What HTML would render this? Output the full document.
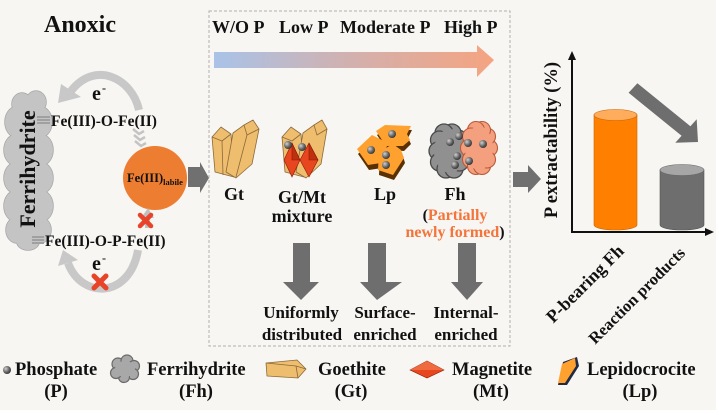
<!DOCTYPE html>
<html><head><meta charset="utf-8"><style>
html,body{margin:0;padding:0;background:#fff;}
svg{display:block;}
text{font-family:"Liberation Serif","DejaVu Serif",serif;font-weight:bold;fill:#111;}
</style></head><body>
<svg width="719" height="415" viewBox="0 0 719 415" xmlns="http://www.w3.org/2000/svg">
<defs>
<linearGradient id="grad" x1="0" x2="1" y1="0" y2="0">
<stop offset="0" stop-color="#a9c3e8"/><stop offset="0.5" stop-color="#d3b0ad"/><stop offset="1" stop-color="#f5a480"/>
</linearGradient>
<radialGradient id="ball" cx="0.35" cy="0.35" r="0.7">
<stop offset="0" stop-color="#d0d0d0"/><stop offset="0.6" stop-color="#666"/><stop offset="1" stop-color="#333"/>
</radialGradient>
</defs>
<rect x="0" y="0" width="716" height="410" fill="#f8f6f2"/>

<!-- Title -->
<text x="44" y="32" font-size="24">Anoxic</text>

<!-- Left ferrihydrite cloud -->
<g stroke="#a8a8a8" stroke-width="1.5" fill="#c4c4c4">
<ellipse cx="22" cy="104" rx="10" ry="11"/><ellipse cx="36" cy="102" rx="10" ry="11"/>
<ellipse cx="16" cy="122" rx="11" ry="15"/><ellipse cx="41" cy="122" rx="11" ry="15"/>
<ellipse cx="15" cy="150" rx="11" ry="15"/><ellipse cx="42" cy="150" rx="11" ry="15"/>
<ellipse cx="15" cy="178" rx="11" ry="15"/><ellipse cx="42" cy="178" rx="11" ry="15"/>
<ellipse cx="15" cy="206" rx="11" ry="15"/><ellipse cx="42" cy="206" rx="11" ry="15"/>
<ellipse cx="17" cy="230" rx="11" ry="13"/><ellipse cx="40" cy="230" rx="11" ry="13"/>
<ellipse cx="28" cy="242" rx="11" ry="8"/>
</g>
<g fill="#c4c4c4">
<ellipse cx="22" cy="104" rx="10" ry="11"/><ellipse cx="36" cy="102" rx="10" ry="11"/>
<ellipse cx="16" cy="122" rx="11" ry="15"/><ellipse cx="41" cy="122" rx="11" ry="15"/>
<ellipse cx="15" cy="150" rx="11" ry="15"/><ellipse cx="42" cy="150" rx="11" ry="15"/>
<ellipse cx="15" cy="178" rx="11" ry="15"/><ellipse cx="42" cy="178" rx="11" ry="15"/>
<ellipse cx="15" cy="206" rx="11" ry="15"/><ellipse cx="42" cy="206" rx="11" ry="15"/>
<ellipse cx="17" cy="230" rx="11" ry="13"/><ellipse cx="40" cy="230" rx="11" ry="13"/>
<ellipse cx="28" cy="242" rx="11" ry="8"/>
<rect x="15" y="104" width="27" height="136"/>
</g>
<text transform="translate(35,169) rotate(-90)" font-size="22" text-anchor="middle">Ferrihydrite</text>

<!-- top arc -->
<path d="M139 110 C132 78 95 60 71 91" fill="none" stroke="#c8c8c8" stroke-width="8"/>
<polygon points="58,103 61,84 81,97" fill="#c8c8c8"/>
<text x="92" y="100" font-size="20">e</text><text x="102" y="92" font-size="12">-</text>
<g stroke="#a0a0a0" stroke-width="2" fill="none">
<line x1="37" y1="117" x2="50" y2="117"/><line x1="37" y1="120" x2="50" y2="120"/><line x1="37" y1="123" x2="50" y2="123"/>
</g>
<text x="51" y="126" font-size="15.5">Fe(III)-O-Fe(II)</text>
<g stroke="#c4c4c4" stroke-width="2.5" fill="none">
<polyline points="133,129 139,134 144,131"/><polyline points="134,135 140,140 145,137"/><polyline points="135,141 141,146 146,143"/>
</g>

<!-- orange circle -->
<circle cx="155" cy="178" r="32" fill="#ed7d31"/>
<text x="127" y="182" font-size="12.5">Fe(III)<tspan font-size="8.5" dy="3">labile</tspan></text>
<polygon points="188,167 200,167 200,162 209,178 200,193 200,187 188,187" fill="#707070"/>

<!-- lower part -->
<polygon points="148,208 154,218 150,218 150,228 145,228 145,218 141,218" fill="#c0c0c0"/>
<g stroke="#e8442a" stroke-width="4.5" stroke-linecap="round">
<line x1="140" y1="215" x2="151" y2="226"/><line x1="151" y1="215" x2="140" y2="226"/>
</g>
<g stroke="#a0a0a0" stroke-width="2" fill="none">
<line x1="32" y1="237" x2="44" y2="237"/><line x1="32" y1="240" x2="44" y2="240"/><line x1="32" y1="243" x2="44" y2="243"/>
</g>
<text x="45" y="246" font-size="15.5">Fe(III)-O-P-Fe(II)</text>
<path d="M138 250 C130 298 82 300 68 263" fill="none" stroke="#c8c8c8" stroke-width="8"/>
<polygon points="63,250 78,260 58,266" fill="#c8c8c8"/>
<text x="92" y="270" font-size="20">e</text><text x="102" y="262" font-size="12">-</text>
<g stroke="#e8442a" stroke-width="5" stroke-linecap="round">
<line x1="94" y1="276" x2="106" y2="288"/><line x1="106" y1="276" x2="94" y2="288"/>
</g>

<!-- dashed box -->
<rect x="209" y="11" width="301" height="335" fill="none" stroke="#b0b0b0" stroke-width="1" stroke-dasharray="3,2"/>
<text x="212" y="33" font-size="18">W/O P</text>
<text x="279" y="33" font-size="18">Low P</text>
<text x="340" y="33" font-size="18">Moderate P</text>
<text x="444" y="33" font-size="18">High P</text>
<polygon points="214,52 477,52 477,45 494,60 477,77 477,68 214,68" fill="url(#grad)"/>

<!-- Gt crystals -->
<g fill="#eebd6e" stroke="#8a6a3a" stroke-width="0.8" stroke-linejoin="round">
<polygon points="212,137 221,127 231,134 234,177 215,172"/>
<polyline points="212,137 222,141 231,134" fill="none"/><line x1="222" y1="141" x2="223" y2="175"/>
<polygon points="233,133 244,125 253,120 259,129 252,164 236,178 226,172"/>
<polyline points="244,125 247,135 259,129" fill="none"/><line x1="247" y1="135" x2="236" y2="177"/>
</g>
<!-- Gt/Mt -->
<g fill="#eebd6e" stroke="#8a6a3a" stroke-width="0.8" stroke-linejoin="round">
<polygon points="282,137 291,127 301,134 304,177 285,172"/>
<polyline points="282,137 292,141 301,134" fill="none"/>
<polygon points="303,133 314,125 322,120 327,129 321,164 306,178 296,172"/>
<polyline points="314,125 317,135 327,129" fill="none"/>
</g>
<g stroke="#8a1a08" stroke-width="0.6">
<polygon points="292,143 300,160 292,177 284,160" fill="#e8461f"/>
<polygon points="292,143 300,160 292,160" fill="#c0300f"/>
<polygon points="309,143 318,160 309,177 300,160" fill="#e8461f"/>
<polygon points="309,143 318,160 309,160" fill="#c0300f"/>
</g>
<circle cx="288" cy="145" r="4" fill="url(#ball)"/><circle cx="302" cy="147" r="4" fill="url(#ball)"/>

<!-- Lp -->
<g>
<polygon points="376,133 385,127 411,128 407,136 410,142 403,149 386,148" fill="#5a3000" transform="translate(1,2)"/>
<polygon points="376,131 385,125 411,126 407,134 410,140 403,146 386,146" fill="#ffa12e"/>
<polygon points="357,151 372,137 388,145 381,165 368,167" fill="#5a3000" transform="translate(1,3)"/>
<polygon points="357,149 372,135 388,143 381,163 368,165" fill="#ffa12e"/>
<polygon points="379,152 393,144 401,150 404,160 393,177 378,172" fill="#5a3000" transform="translate(1,3)"/>
<polygon points="379,152 393,144 401,150 404,158 393,175 378,170" fill="#ffa12e"/>
</g>
<circle cx="392" cy="134" r="4" fill="url(#ball)"/><circle cx="371" cy="150" r="4" fill="url(#ball)"/>
<circle cx="386" cy="155" r="4" fill="url(#ball)"/><circle cx="386" cy="165" r="4" fill="url(#ball)"/>

<!-- Fh -->
<g stroke="#4a4a4a" stroke-width="1.3" fill="#909090">
<circle cx="461" cy="151" r="9"/><circle cx="458.5" cy="139.2" r="9"/><circle cx="452" cy="133" r="9"/><circle cx="444" cy="133" r="9"/><circle cx="439.5" cy="140" r="9"/><circle cx="438" cy="151" r="9"/><circle cx="439.5" cy="162" r="9"/><circle cx="446" cy="169" r="9"/><circle cx="454" cy="169" r="9"/><circle cx="459.5" cy="162" r="9"/>
</g>
<ellipse cx="450" cy="151" rx="16" ry="22" fill="#909090"/>
<g stroke="#b85a3a" stroke-width="1.1" fill="#f4a07e">
<circle cx="489" cy="148" r="8.5"/><circle cx="487" cy="136.5" r="8.5"/><circle cx="482" cy="130" r="8.5"/><circle cx="476" cy="130" r="8.5"/><circle cx="471" cy="136.5" r="8.5"/><circle cx="469" cy="148" r="8.5"/><circle cx="471" cy="159.5" r="8.5"/><circle cx="476" cy="166" r="8.5"/><circle cx="482" cy="166" r="8.5"/><circle cx="487" cy="159.5" r="8.5"/>
</g>
<ellipse cx="479" cy="148" rx="14" ry="22" fill="#f4a07e"/>
<circle cx="450" cy="142" r="4" fill="url(#ball)"/><circle cx="459" cy="136" r="4" fill="url(#ball)"/>
<circle cx="457" cy="156" r="4" fill="url(#ball)"/><circle cx="455" cy="165" r="4" fill="url(#ball)"/>
<circle cx="468" cy="143" r="4" fill="url(#ball)"/><circle cx="483" cy="144" r="4" fill="url(#ball)"/><circle cx="469" cy="161" r="4" fill="url(#ball)"/>

<!-- labels -->
<g font-size="18" text-anchor="middle">
<text x="234" y="200">Gt</text>
<text x="302" y="203">Gt/Mt</text>
<text x="302" y="222">mixture</text>
<text x="385" y="200">Lp</text>
<text x="455" y="200">Fh</text>
</g>
<text x="455" y="220" font-size="16" text-anchor="middle">(<tspan style="fill:#f4743b">Partially</tspan></text>
<text x="455" y="237" font-size="16" text-anchor="middle"><tspan style="fill:#f4743b">newly formed</tspan>)</text>

<!-- down arrows -->
<g fill="#6e6e6e">
<polygon points="293,243 310,243 310,282 319,282 301,300 283,282 293,282"/>
<polygon points="368,243 386,243 386,282 402,282 377,300 360,282 368,282"/>
<polygon points="458,243 476,243 476,282 483,282 467,300 451,282 458,282"/>
</g>
<g font-size="17" text-anchor="middle">
<text x="301" y="318">Uniformly</text><text x="302" y="340">distributed</text>
<text x="385" y="318">Surface-</text><text x="385" y="340">enriched</text>
<text x="466" y="318">Internal-</text><text x="466" y="340">enriched</text>
</g>

<!-- right side -->
<polygon points="513,172 528,172 528,165 541,179 528,193 528,187 513,187" fill="#707070"/>
<text transform="translate(557,140) rotate(-90)" font-size="18.5" text-anchor="middle">P extractability (%)</text>
<line x1="572" y1="58" x2="572" y2="232" stroke="#111" stroke-width="2"/>
<polygon points="572,51 568,60 576,60" fill="#111"/>
<line x1="571" y1="232" x2="707" y2="232" stroke="#111" stroke-width="2"/>
<polygon points="714,232 705,228 705,236" fill="#111"/>
<!-- orange cylinder -->
<path d="M594 115 L594 225 A21.5 5 0 0 0 637 225 L637 115 Z" fill="#ff8000" stroke="#c86400" stroke-width="0.6"/>
<ellipse cx="615.5" cy="115" rx="21.5" ry="5.5" fill="#ffad5c" stroke="#c86400" stroke-width="0.6"/>
<!-- gray cylinder -->
<path d="M660 170 L660 225 A22 5 0 0 0 704 225 L704 170 Z" fill="#6e6e6e" stroke="#555" stroke-width="0.6"/>
<ellipse cx="682" cy="170" rx="22" ry="5.5" fill="#a6a6a6" stroke="#666" stroke-width="0.6"/>
<polygon points="637.4,83.2 690.4,126.2 696.7,119.2 698,142 675.3,142.8 681.6,135.8 628.6,92.8" fill="#6e6e6e"/>
<text transform="translate(625,252) rotate(-45)" font-size="18" text-anchor="end">P-bearing Fh</text>
<text transform="translate(686,254) rotate(-45)" font-size="16.5" text-anchor="end">Reaction products</text>

<!-- legend -->
<circle cx="7" cy="370" r="4" fill="url(#ball)"/>
<text x="15" y="375" font-size="18.5">Phosphate</text>
<text x="56" y="397" font-size="18.5" text-anchor="middle">(P)</text>
<g stroke="#6a6a6a" stroke-width="1.2" fill="#a8a8a8">
<circle cx="118" cy="364" r="6"/><circle cx="127" cy="361" r="6"/><circle cx="134" cy="366" r="5.5"/><circle cx="133" cy="374" r="5.5"/><circle cx="124" cy="377" r="5.5"/><circle cx="116" cy="373" r="5.5"/>
</g>
<ellipse cx="125" cy="369" rx="10" ry="8" fill="#a8a8a8"/>
<text x="147" y="375" font-size="18.5">Ferrihydrite</text>
<text x="196" y="397" font-size="18.5" text-anchor="middle">(Fh)</text>
<g fill="#eebd6e" stroke="#8a6a3a" stroke-width="0.8" stroke-linejoin="round">
<polygon points="266,363 297,360 306,369 298,378 267,376"/>
<polyline points="266,363 296,366 306,369" fill="none"/><line x1="296" y1="366" x2="298" y2="378"/>
</g>
<text x="318" y="375" font-size="18.5">Goethite</text>
<text x="351" y="397" font-size="18.5" text-anchor="middle">(Gt)</text>
<polygon points="410,370 427,361 444,370 427,378" fill="#e8461f" stroke="#8a1a08" stroke-width="0.6"/>
<polygon points="410,370 427,361 444,370" fill="#f06a40"/>
<text x="452" y="375" font-size="18.5">Magnetite</text>
<text x="491" y="397" font-size="18.5" text-anchor="middle">(Mt)</text>
<polygon points="563,362 577,357 579,366 567,385 558,385" fill="#1f2a44"/>
<polygon points="562,364 575,358 576,366 565,383 558,383" fill="#ffa12e"/>
<text x="587" y="375" font-size="18.5">Lepidocrocite</text>
<text x="640" y="397" font-size="18.5" text-anchor="middle">(Lp)</text>
</svg>
</body></html>
